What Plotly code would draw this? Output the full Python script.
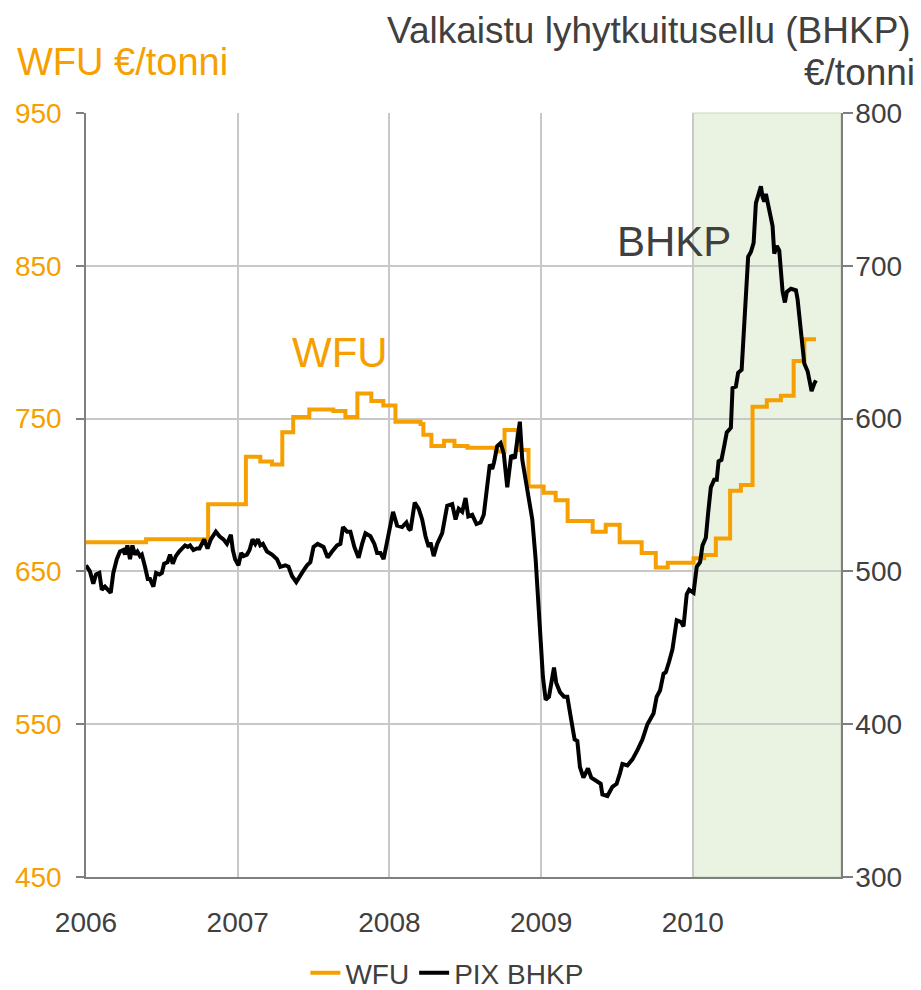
import plotly.graph_objects as go

# ---- data (time in decimal years) ----
wfu_t = [2006.000, 2006.396, 2006.805, 2007.054, 2007.149, 2007.226, 2007.294, 2007.366,
         2007.472, 2007.630, 2007.710, 2007.789, 2007.881, 2007.960, 2008.040, 2008.205,
         2008.224, 2008.277, 2008.360, 2008.429, 2008.515, 2008.700, 2008.759, 2008.845,
         2008.917, 2009.017, 2009.096, 2009.175, 2009.340, 2009.426, 2009.518, 2009.663,
         2009.756, 2009.835, 2010.005, 2010.075, 2010.152, 2010.246, 2010.317, 2010.394,
         2010.488, 2010.581, 2010.665, 2010.735, 2010.812]
wfu_v = [669, 671, 694, 725, 722, 720, 741, 751,
         756, 755, 751, 766.5, 761.5, 758.5, 748, 746.5,
         739.5, 732, 735.5, 732, 731, 728.5, 742.5, 729.5,
         705.5, 701.5, 696.5, 683, 676, 680.5, 669, 662,
         652.5, 655.7, 658.6, 660.7, 671.6, 702.7, 706.5, 757.8,
         762, 765, 787.7, 802, 802]

bhkp_t = [2006.000, 2006.026, 2006.048, 2006.066, 2006.088, 2006.104, 2006.125, 2006.147, 2006.163, 2006.180,
          2006.203, 2006.224, 2006.246, 2006.257, 2006.273, 2006.290, 2006.306, 2006.323, 2006.339, 2006.356,
          2006.368, 2006.389, 2006.407, 2006.422, 2006.444, 2006.462, 2006.484, 2006.500, 2006.515, 2006.537,
          2006.554, 2006.572, 2006.592, 2006.614, 2006.632, 2006.653, 2006.671, 2006.686, 2006.708, 2006.731,
          2006.748, 2006.764, 2006.779, 2006.801, 2006.823, 2006.856, 2006.880, 2006.906, 2006.929, 2006.955,
          2006.968, 2006.983, 2007.005, 2007.023, 2007.038, 2007.061, 2007.078, 2007.098, 2007.116, 2007.133,
          2007.149, 2007.166, 2007.193, 2007.226, 2007.259, 2007.281, 2007.314, 2007.335, 2007.358, 2007.386,
          2007.408, 2007.430, 2007.457, 2007.479, 2007.500, 2007.527, 2007.566, 2007.593, 2007.622, 2007.655,
          2007.677, 2007.694, 2007.721, 2007.743, 2007.769, 2007.797, 2007.820, 2007.842, 2007.875, 2007.901,
          2007.919, 2007.941, 2007.962, 2007.989, 2008.024, 2008.051, 2008.084, 2008.112, 2008.127, 2008.139,
          2008.167, 2008.193, 2008.216, 2008.238, 2008.259, 2008.271, 2008.292, 2008.315, 2008.348, 2008.381,
          2008.414, 2008.436, 2008.457, 2008.480, 2008.502, 2008.520, 2008.546, 2008.574, 2008.601, 2008.622,
          2008.640, 2008.662, 2008.678, 2008.689, 2008.711, 2008.733, 2008.754, 2008.777, 2008.803, 2008.827,
          2008.843, 2008.860, 2008.876, 2008.909, 2008.942, 2008.964, 2008.986, 2008.997, 2009.012, 2009.030,
          2009.052, 2009.085, 2009.100, 2009.124, 2009.151, 2009.173, 2009.195, 2009.221, 2009.239, 2009.256,
          2009.279, 2009.309, 2009.331, 2009.371, 2009.393, 2009.404, 2009.437, 2009.470, 2009.498, 2009.520,
          2009.536, 2009.569, 2009.602, 2009.635, 2009.668, 2009.701, 2009.741, 2009.762, 2009.784, 2009.807,
          2009.822, 2009.844, 2009.866, 2009.894, 2009.921, 2009.939, 2009.960, 2009.976, 2010.005, 2010.026,
          2010.048, 2010.064, 2010.086, 2010.101, 2010.119, 2010.141, 2010.158, 2010.170, 2010.189, 2010.207,
          2010.224, 2010.251, 2010.262, 2010.284, 2010.299, 2010.322, 2010.335, 2010.350, 2010.365, 2010.383,
          2010.401, 2010.416, 2010.431, 2010.449, 2010.460, 2010.471, 2010.482, 2010.497, 2010.510, 2010.526,
          2010.537, 2010.554, 2010.570, 2010.581, 2010.592, 2010.607, 2010.620, 2010.647, 2010.680, 2010.691,
          2010.713, 2010.735, 2010.757, 2010.783, 2010.801, 2010.812]
bhkp_v = [504, 500, 492, 498, 499, 488, 490, 488, 486, 499,
          508, 513, 514, 511, 517, 508, 517, 511, 513, 510,
          511, 503, 495, 495, 490, 499, 498, 499, 505, 506,
          511, 505, 510, 513, 515, 517, 516, 517, 514, 515,
          515, 518, 521, 515, 521, 526, 523, 521, 518, 524,
          514, 508, 504, 512, 510, 511, 514, 521, 518, 521,
          517, 518, 513, 511, 508, 503, 504, 503, 497, 493,
          497, 500, 504, 506, 516, 518, 516, 509, 513, 517,
          518, 529, 526, 526, 516, 509, 518, 525, 523, 518,
          512, 512, 508, 523, 539, 530, 529, 532, 528, 527,
          545, 541, 534, 523, 516, 519, 510, 518, 525, 543,
          544, 534, 541, 539, 548, 536, 537, 531, 532, 537,
          552, 570, 567, 571, 582, 584, 577, 555, 576, 574,
          586, 598, 573, 555, 534, 508, 477, 455, 431, 416,
          418, 437, 427, 421, 418, 418, 405, 390, 389, 372,
          365, 371, 365, 362, 361, 354, 353, 359, 361, 368,
          374, 373, 377, 383, 390, 400, 407, 418, 422, 433,
          434, 441, 449, 468, 467, 464, 485, 488, 486, 503,
          506, 517, 522, 538, 555, 560, 560, 572, 573, 582,
          591, 594, 620, 621, 630, 632, 656, 679, 706, 709,
          715, 741, 747, 752, 745, 742, 747, 739, 733, 726,
          708, 713, 710, 695, 683, 676, 683, 685, 684, 678,
          656, 636, 631, 618, 623, 625]

year_ticks = [2006, 2007, 2008, 2009, 2010]
year_labels = ["2006", "2007", "2008", "2009", "2010"]
left_ticks = [450, 550, 650, 750, 850, 950]
right_ticks = [300, 400, 500, 600, 700, 800]
highlight = [2010.0, 2010.977]

ORANGE = "#F5A000"
GREY = "#404040"
FONT = "Liberation Sans, Arial, sans-serif"

fig = go.Figure()
fig.add_trace(go.Scatter(x=wfu_t, y=wfu_v, name="WFU", mode="lines",
                         line=dict(color=ORANGE, width=4, shape="hv"), yaxis="y"))
fig.add_trace(go.Scatter(x=bhkp_t, y=bhkp_v, name="PIX BHKP", mode="lines",
                         line=dict(color="#000000", width=4), yaxis="y2"))

fig.add_shape(type="rect", xref="x", yref="paper", x0=highlight[0], x1=highlight[1],
              y0=0, y1=1, fillcolor="#EAF2E1", line=dict(width=1, color="#C9DAB8"), layer="below")

fig.add_annotation(x=2007.677, y=793, xref="x", yref="y", text="WFU", showarrow=False,
                   font=dict(size=42, color=ORANGE, family=FONT))
fig.add_annotation(x=2009.875, y=866, xref="x", yref="y", text="BHKP", showarrow=False,
                   font=dict(size=42, color=GREY, family=FONT))
fig.add_annotation(x=-0.0942, y=1.0668, xref="paper", yref="paper", xanchor="left", yanchor="middle",
                   text="WFU €/tonni", showarrow=False, font=dict(size=38, color=ORANGE, family=FONT))
fig.add_annotation(x=1.0955, y=1.1086, xref="paper", yref="paper", xanchor="right", yanchor="middle",
                   text="Valkaistu lyhytkuitusellu (BHKP)", showarrow=False,
                   font=dict(size=37, color=GREY, family=FONT))
fig.add_annotation(x=1.1008, y=1.0524, xref="paper", yref="paper", xanchor="right", yanchor="middle",
                   text="€/tonni", showarrow=False, font=dict(size=37, color=GREY, family=FONT))

# the page body adds an 8px offset, so the figure is sized/margined to compensate
fig.update_layout(
    width=913, height=982,
    margin=dict(l=78, r=80, t=105, b=113, autoexpand=False),
    plot_bgcolor="white", paper_bgcolor="white",
    font=dict(family=FONT, color=GREY, size=28),
    showlegend=True,
    legend=dict(orientation="h", x=0.478, y=-0.1257, xanchor="center", yanchor="middle",
                font=dict(size=28, color=GREY), itemwidth=30, tracegroupgap=0),
    xaxis=dict(range=[2006, highlight[1]], tickvals=year_ticks, ticktext=year_labels,
               showgrid=True, gridcolor="#C8C8C8", gridwidth=1.5, automargin=False,
               showline=True, linecolor="#7F7F7F", linewidth=1.5,
               ticks="", ticklabelstandoff=20, tickfont=dict(size=28, color=GREY),
               zeroline=False),
    yaxis=dict(range=[450, 950], tickvals=left_ticks, showgrid=True, gridcolor="#C8C8C8", gridwidth=1.5,
               showline=True, linecolor="#7F7F7F", linewidth=1.5, automargin=False,
               ticks="outside", ticklen=8, tickcolor="#7F7F7F", tickwidth=1.5,
               tickfont=dict(size=28, color=ORANGE), ticklabelstandoff=9, zeroline=False),
    yaxis2=dict(range=[300, 800], tickvals=right_ticks, overlaying="y", side="right",
                showgrid=False, showline=True, linecolor="#7F7F7F", linewidth=1.5, automargin=False,
                ticks="outside", ticklen=10, tickcolor="#7F7F7F", tickwidth=1.5,
                tickfont=dict(size=28, color=GREY), ticklabelstandoff=-3, zeroline=False),
)

fig.write_html("out.html")
